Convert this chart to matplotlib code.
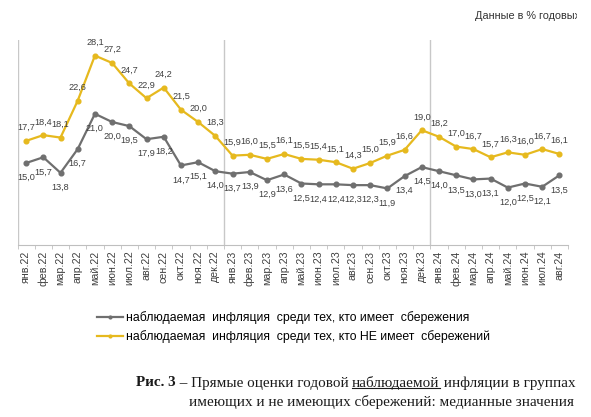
import matplotlib
matplotlib.use('Agg')
import matplotlib.pyplot as plt
from matplotlib.lines import Line2D
from matplotlib.transforms import Bbox

plt.rcParams['font.family'] = ['Liberation Sans', 'DejaVu Sans']

# months jan 2022 .. aug 2024
months = ['янв.22', 'фев.22', 'мар.22', 'апр.22', 'май.22', 'июн.22', 'июл.22', 'авг.22',
          'сен.22', 'окт.22', 'ноя.22', 'дек.22',
          'янв.23', 'фев.23', 'мар.23', 'апр.23', 'май.23', 'июн.23', 'июл.23', 'авг.23',
          'сен.23', 'окт.23', 'ноя.23', 'дек.23',
          'янв.24', 'фев.24', 'мар.24', 'апр.24', 'май.24', 'июн.24', 'июл.24', 'авг.24']

# observed inflation, those with savings
with_savings = [15.0, 15.7, 13.8, 16.7, 21.0, 20.0, 19.5, 17.9, 18.2, 14.7, 15.1, 14.0,
                13.7, 13.9, 12.9, 13.6, 12.5, 12.4, 12.4, 12.3, 12.3, 11.9, 13.4, 14.5,
                14.0, 13.5, 13.0, 13.1, 12.0, 12.5, 12.1, 13.5]
# observed inflation, those without savings
no_savings = [17.7, 18.4, 18.1, 22.6, 28.1, 27.2, 24.7, 22.9, 24.2, 21.5, 20.0, 18.3,
              15.9, 16.0, 15.5, 16.1, 15.5, 15.4, 15.1, 14.3, 15.0, 15.9, 16.6, 19.0,
              18.2, 17.0, 16.7, 15.7, 16.3, 16.0, 16.7, 16.1]

label_1 = 'наблюдаемая  инфляция  среди тех, кто имеет  сбережения'
label_2 = 'наблюдаемая  инфляция  среди тех, кто НЕ имеет  сбережений'

gray = '#6f6f6f'
gold = '#e6b91e'
txt = '#404040'

W, H = 591, 417
fig = plt.figure(figsize=(W / 100, H / 100), dpi=100)
ax = fig.add_axes([17.5 / W, 1 - 245 / H, (568 - 17.5) / W, (245 - 40) / H])

x = list(range(len(months)))
ax.plot(x, with_savings, color=gray, lw=1.6, marker='o', ms=3.4, zorder=3)
ax.plot(x, no_savings, color=gold, lw=1.6, marker='o', ms=3.4, zorder=3)

for i in x:
    ax.annotate(f'{no_savings[i]:.1f}'.replace('.', ','), (i, no_savings[i]),
                xytext=(0, 9.5), textcoords='offset points', ha='center', va='center',
                fontsize=6.6, color=txt)
    ax.annotate(f'{with_savings[i]:.1f}'.replace('.', ','), (i, with_savings[i]),
                xytext=(0, -10.5), textcoords='offset points', ha='center', va='center',
                fontsize=6.6, color=txt)

# year separators
for xv in [-0.5, 11.5, 23.5]:
    ax.axvline(xv, color='#c8c8c8', lw=1, zorder=1)

ax.set_xlim(-0.5, 31.5)
ax.set_ylim(5, 30)
for s in ['top', 'right', 'left']:
    ax.spines[s].set_visible(False)
ax.spines['bottom'].set_color('#bfbfbf')
ax.set_yticks([])
ax.set_xticks(x)
ax.set_xticklabels(months, rotation=90, fontsize=7.7, color=txt)
ax.tick_params(axis='x', which='major', length=0, pad=4)
ax.set_xticks([i + 0.5 for i in range(-1, 32)], minor=True)
ax.tick_params(axis='x', which='minor', length=3, color='#bfbfbf')

note = fig.text(475 / W, 1 - 16 / H, 'Данные в % годовых', fontsize=7.8, color='#333333',
                ha='left', va='center')
note.set_clip_box(Bbox.from_extents(0, 0, 577, H))

handles = [Line2D([], [], color=gray, lw=1.6, marker='o', ms=2),
           Line2D([], [], color=gold, lw=1.6, marker='o', ms=2)]
fig.legend(handles, [label_1, label_2], loc='upper left', bbox_to_anchor=(97 / W, 1 - 311 / H),
           frameon=False, fontsize=8.8, handlelength=2.1, handletextpad=0.25,
           labelspacing=0.5, borderpad=0, borderaxespad=0)

# caption, first line built from pieces (bold part and underlined word)
fig.canvas.draw()
r = fig.canvas.get_renderer()
cap_fs = 10.9
serif = ['Liberation Serif', 'DejaVu Serif']
xpos = 136 / W
y1 = 1 - 383 / H
pieces = [('Рис. 3', 'bold', False), (' – Прямые оценки годовой ', 'normal', False),
          ('наблюдаемой', 'normal', True), (' инфляции в группах', 'normal', False)]
for s, wgt, under in pieces:
    t = fig.text(xpos, y1, s, fontsize=cap_fs, family=serif, weight=wgt, color='#1a1a1a',
                 ha='left', va='center')
    bb = t.get_window_extent(r).transformed(fig.transFigure.inverted())
    if under:
        fig.add_artist(Line2D([bb.x0, bb.x1], [bb.y0 + 0.004, bb.y0 + 0.004],
                              color='#1a1a1a', lw=0.8, transform=fig.transFigure))
    xpos = bb.x1
fig.text(574 / W, 1 - 402 / H, 'имеющих и не имеющих сбережений: медианные значения',
         fontsize=cap_fs, family=serif, color='#1a1a1a', ha='right', va='center')

fig.savefig('out.png', dpi=100)
